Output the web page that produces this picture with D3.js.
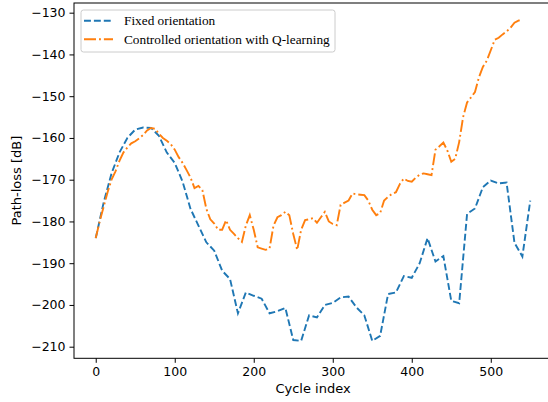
<!DOCTYPE html>
<html>
<head>
<meta charset="utf-8">
<script src="https://cdn.jsdelivr.net/npm/d3@7"></script>
<style>
  body { margin: 0; background: #fff; }
  svg { display: block; font-family: "DejaVu Sans", sans-serif; }
</style>
</head>
<body>
<svg width="548" height="402"></svg>
<script>
// Path-loss vs cycle index, fixed vs Q-learning controlled orientation

var fixedCycles = [0, 10, 20, 30, 40, 50, 60, 70, 80, 90, 100, 110, 120, 130, 140, 150, 160, 170, 180, 190,
    200, 210, 220, 230, 240, 250, 260, 270, 280, 290, 300, 310, 320, 330, 340, 350, 360, 370, 380, 390,
    400, 410, 420, 430, 440, 450, 460, 470, 480, 490, 500, 510, 520, 530, 540, 550];
var fixedLoss = [-184, -175.5, -168.5, -163.5, -160, -158, -157.5, -157.6, -159.5, -163.5, -166, -170.5, -177, -181, -185, -187, -191.8, -193.8, -202, -197,
    -197.8, -198.5, -202, -201.5, -200.7, -208.4, -208.6, -202.5, -203, -200, -199.5, -198.2, -198, -200.6, -202.5, -208.6, -207.4, -197.4, -197, -193.1,
    -193.5, -190, -184, -189.6, -188.3, -199, -199.6, -178.2, -176.9, -171.8, -170.2, -170.9, -170.7, -185.1, -188.4, -175];

var qCycles = [0, 5, 10, 15, 20, 25, 30, 35, 40, 45, 50, 55, 60, 65, 70, 75, 80, 85, 90, 95,
    100, 105, 110, 115, 120, 125, 130, 135, 140, 145, 150, 155, 160, 165, 170, 175, 180, 185, 190, 195,
    200, 205, 210, 215, 220, 225, 230, 235, 240, 245, 250, 255, 260, 265, 270, 275, 280, 285, 290, 295,
    300, 305, 310, 315, 320, 325, 330, 335, 340, 345, 350, 355, 360, 365, 370, 375, 380, 385, 390, 395,
    400, 405, 410, 415, 420, 425, 430, 435, 440, 445, 450, 455, 460, 465, 470, 475, 480, 485, 490, 495,
    500, 505, 510, 515, 520, 525, 530, 535, 540];
var qLoss = [-184, -180, -176.5, -173, -170, -168, -165.5, -163.5, -162.3, -161.3, -160.8, -160.1, -159.3, -158.2, -157.6, -157.8, -159, -160, -160.7, -161.5,
    -162.8, -164.6, -166, -167.7, -169.5, -172, -171.5, -172.5, -177, -179.5, -180.5, -182, -182, -179.7, -182, -183, -184, -184.9, -181, -178.5,
    -182, -186.2, -186.5, -186.8, -186.5, -181, -179, -178.5, -177.7, -178.5, -183, -186.8, -182, -179.7, -179.5, -179.2, -180.3, -179, -177.7, -180,
    -180.6, -180.9, -176, -175.5, -175, -173.3, -173.5, -173.6, -173.7, -175, -177.2, -178.5, -178, -175, -174.1, -173.4, -173, -171, -169.7, -170.3,
    -170.5, -169.5, -168.8, -168.5, -168.7, -168.9, -162.8, -162, -161.1, -163, -165.7, -165, -161, -155, -151.5, -150.3, -149, -145.5, -143, -141.5,
    -139, -136.5, -136, -135.2, -134.5, -133.6, -132.4, -131.9, -131.6];

var xTicks = [0, 100, 200, 300, 400, 500];
var yTicks = [-210, -200, -190, -180, -170, -160, -150, -140, -130];

var seriesNames = ["Fixed orientation", "Controlled orientation with Q-learning"];
var blue = "#1f77b4", orange = "#ff7f0e";

var svg = d3.select("svg"),
    margin = {top: 3, left: 74, right: 552, bottom: 358.3};

var x = d3.scaleLinear().domain([-27.5, 577.5]).range([margin.left, margin.right]);
var y = d3.scaleLinear().domain([-212.78, -127.68]).range([margin.bottom, margin.top]);

var fmt = function(d) { return d < 0 ? "\u2212" + Math.abs(d) : d; };

// x-axis
var gx = svg.append("g")
    .attr("transform", "translate(0," + margin.bottom + ")")
    .call(d3.axisBottom(x).tickValues(xTicks).tickSize(4.5).tickPadding(4));
gx.select(".domain").remove();
gx.selectAll("text").attr("font-size", 12.5).attr("font-family", "DejaVu Sans").attr("fill", "#000");
gx.selectAll("line").attr("stroke", "#000");

// y-axis
var gy = svg.append("g")
    .attr("transform", "translate(" + margin.left + ",0)")
    .call(d3.axisLeft(y).tickValues(yTicks).tickFormat(fmt).tickSize(4.5).tickPadding(4));
gy.select(".domain").remove();
gy.selectAll("text").attr("font-size", 12.5).attr("font-family", "DejaVu Sans").attr("fill", "#000");
gy.selectAll("line").attr("stroke", "#000");

// spines
svg.append("rect")
    .attr("x", margin.left).attr("y", margin.top)
    .attr("width", margin.right - margin.left).attr("height", margin.bottom - margin.top)
    .attr("fill", "none").attr("stroke", "#000").attr("stroke-width", 1);

// labels
svg.append("text")
    .attr("x", (margin.left + margin.right) / 2).attr("y", 393)
    .attr("text-anchor", "middle").attr("font-size", 13).text("Cycle index");
svg.append("text")
    .attr("transform", "translate(21," + (margin.top + margin.bottom) / 2 + ") rotate(-90)")
    .attr("text-anchor", "middle").attr("font-size", 13).text("Path-loss [dB]");

var line = d3.line()
    .x(function(d) { return x(d[0]); })
    .y(function(d) { return y(d[1]); });

var fixedData = fixedCycles.map(function(c, i) { return [c, fixedLoss[i]]; });
var qData = qCycles.map(function(c, i) { return [c, qLoss[i]]; });

svg.append("path")
    .attr("d", line(fixedData))
    .attr("fill", "none").attr("stroke", blue).attr("stroke-width", 1.9)
    .attr("stroke-dasharray", "6.9,3");

svg.append("path")
    .attr("d", line(qData))
    .attr("fill", "none").attr("stroke", orange).attr("stroke-width", 1.9)
    .attr("stroke-dasharray", "12,3,1.9,3");

// legend
var legend = svg.append("g");
legend.append("rect")
    .attr("x", 81).attr("y", 10).attr("width", 254).attr("height", 42)
    .attr("rx", 2.5).attr("fill", "#fff").attr("fill-opacity", 0.8)
    .attr("stroke", "#ccc").attr("stroke-width", 1);

[[blue, "6.9,3"], [orange, "12,3,1.9,3"]].forEach(function(s, i) {
    var ly = 20.7 + i * 18.5;
    legend.append("line")
        .attr("x1", 84).attr("x2", 113).attr("y1", ly).attr("y2", ly)
        .attr("stroke", s[0]).attr("stroke-width", 1.9).attr("stroke-dasharray", s[1]);
    legend.append("text")
        .attr("x", 124).attr("y", ly + 4.6)
        .attr("font-family", "Liberation Serif").attr("font-size", 13.3)
        .text(seriesNames[i]);
});
</script>
</body>
</html>
